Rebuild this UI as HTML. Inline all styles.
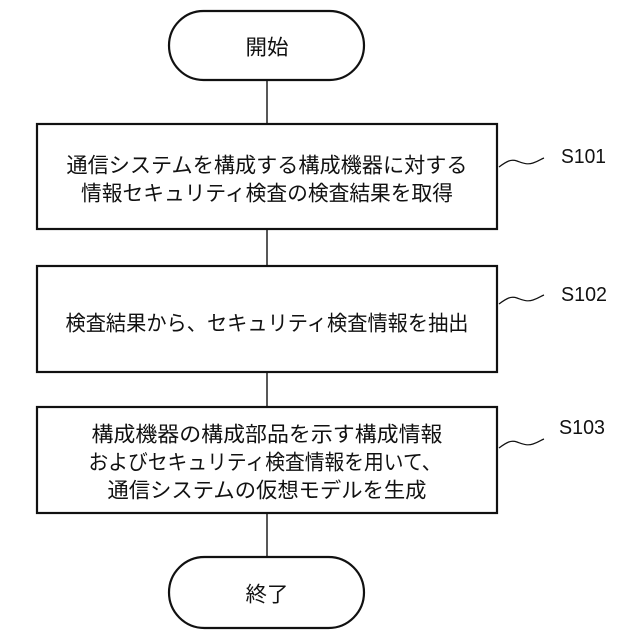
<!DOCTYPE html>
<html><head><meta charset="utf-8"><style>
body{margin:0;background:#fff;}
svg{display:block}
text{font-family:"Liberation Sans","Noto Sans CJK JP",sans-serif;font-size:21px;fill:#111;text-anchor:middle;dominant-baseline:central}
.l{text-anchor:start;font-size:20px}
</style></head><body>
<svg width="640" height="640" viewBox="0 0 640 640">
<g fill="none" stroke="#111" stroke-width="2.2">
<rect x="169" y="11" width="195" height="69" rx="34.5"/>
<rect x="37" y="124" width="460" height="105"/>
<rect x="37" y="266" width="460" height="106"/>
<rect x="37" y="407" width="460" height="106"/>
<rect x="169" y="557" width="195" height="71" rx="35.5"/>
<path d="M267 80V124M267 229V266M267 372V407M267 513V557" stroke-width="1.4"/>
<path d="M499 167c8-6 12-8 18-6s10 4 16 2 8-4 11-5" stroke-width="1.2"/>
<path d="M499 304c8-6 12-8 18-6s10 4 16 2 8-4 11-5" stroke-width="1.2"/>
<path d="M499 448c8-6 12-8 18-6s10 4 16 2 8-4 11-5" stroke-width="1.2"/>
</g>
<text x="267" y="48" textLength="43" lengthAdjust="spacingAndGlyphs">開始</text>
<text x="267" y="166" textLength="401" lengthAdjust="spacingAndGlyphs">通信システムを構成する構成機器に対する</text>
<text x="267" y="194" textLength="372" lengthAdjust="spacingAndGlyphs">情報セキュリティ検査の検査結果を取得</text>
<text x="267" y="324" textLength="403" lengthAdjust="spacingAndGlyphs">検査結果から、セキュリティ検査情報を抽出</text>
<text x="267" y="435" textLength="351" lengthAdjust="spacingAndGlyphs">構成機器の構成部品を示す構成情報</text>
<text x="265" y="463" textLength="353" lengthAdjust="spacingAndGlyphs">およびセキュリティ検査情報を用いて、</text>
<text x="267" y="491" textLength="319" lengthAdjust="spacingAndGlyphs">通信システムの仮想モデルを生成</text>
<text x="267" y="595" textLength="43" lengthAdjust="spacingAndGlyphs">終了</text>
<text class="l" x="561" y="157" textLength="45" lengthAdjust="spacingAndGlyphs">S101</text>
<text class="l" x="561" y="295" textLength="46" lengthAdjust="spacingAndGlyphs">S102</text>
<text class="l" x="559" y="428" textLength="46" lengthAdjust="spacingAndGlyphs">S103</text>
</svg>
</body></html>
